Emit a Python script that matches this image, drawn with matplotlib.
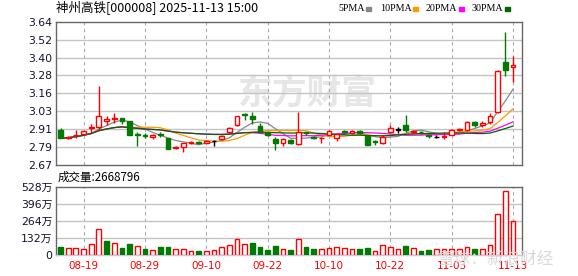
import matplotlib
matplotlib.use("Agg")
import matplotlib.pyplot as plt
import matplotlib.patches as mpatches
import numpy as np
import pandas as pd

# trading days shown (60 sessions)
dates = ["08-14", "08-15", "08-18", "08-19", "08-20", "08-21", "08-22", "08-25", "08-26", "08-27",
         "08-28", "08-29", "09-01", "09-02", "09-03", "09-04", "09-05", "09-08", "09-09", "09-10",
         "09-11", "09-12", "09-15", "09-16", "09-17", "09-18", "09-19", "09-22", "09-23", "09-24",
         "09-25", "09-26", "09-29", "09-30", "10-09", "10-10", "10-13", "10-14", "10-15", "10-16",
         "10-17", "10-20", "10-21", "10-22", "10-23", "10-24", "10-27", "10-28", "10-29", "10-30",
         "10-31", "11-03", "11-04", "11-05", "11-06", "11-07", "11-10", "11-11", "11-12", "11-13"]

opens = [2.91, 2.85, 2.87, 2.88, 2.92, 2.925, 2.965, 2.98, 2.985, 2.965,
         2.88, 2.875, 2.86, 2.88, 2.85, 2.785, 2.79, 2.82, 2.825, 2.82,
         2.83, 2.845, 2.89, 2.94, 3.015, 3.005, 2.935, 2.885, 2.845, 2.82,
         2.84, 2.81, 2.89, 2.86, 2.85, 2.875, 2.85, 2.90, 2.885, 2.90,
         2.865, 2.83, 2.82, 2.895, 2.91, 2.94, 2.895, 2.895, 2.87, 2.86,
         2.86, 2.875, 2.905, 2.905, 2.96, 2.94, 2.96, 3.03, 3.37, 3.33]
closes = [2.85, 2.86, 2.875, 2.90, 2.93, 3.00, 2.98, 2.99, 2.97, 2.87,
          2.875, 2.865, 2.875, 2.87, 2.78, 2.79, 2.82, 2.825, 2.82, 2.835,
          2.83, 2.865, 2.92, 3.00, 3.01, 2.98, 2.895, 2.875, 2.82, 2.845,
          2.82, 2.89, 2.885, 2.85, 2.855, 2.90, 2.88, 2.895, 2.90, 2.885,
          2.805, 2.825, 2.86, 2.92, 2.91, 2.91, 2.90, 2.89, 2.865, 2.86,
          2.865, 2.905, 2.915, 2.96, 2.94, 2.955, 3.005, 3.305, 3.31, 3.345]
highs = [2.92, 2.865, 2.905, 2.90, 2.95, 3.205, 3.00, 3.02, 2.99, 2.97,
         2.895, 2.885, 2.88, 2.89, 2.855, 2.80, 2.82, 2.835, 2.83, 2.84,
         2.84, 2.87, 2.925, 3.005, 3.025, 3.03, 2.955, 2.89, 2.86, 2.85,
         2.845, 3.03, 2.895, 2.865, 2.86, 2.905, 2.885, 2.91, 2.905, 2.91,
         2.87, 2.84, 2.87, 2.94, 2.93, 3.01, 2.91, 2.90, 2.875, 2.87,
         2.895, 2.915, 2.92, 2.97, 2.97, 2.965, 3.02, 3.31, 3.57, 3.41]
lows = [2.85, 2.845, 2.85, 2.88, 2.885, 2.91, 2.94, 2.955, 2.95, 2.87,
        2.80, 2.855, 2.845, 2.86, 2.78, 2.775, 2.755, 2.81, 2.81, 2.82,
        2.80, 2.84, 2.885, 2.935, 2.975, 2.95, 2.89, 2.865, 2.77, 2.80,
        2.815, 2.805, 2.875, 2.845, 2.82, 2.87, 2.835, 2.885, 2.88, 2.88,
        2.805, 2.805, 2.815, 2.885, 2.885, 2.895, 2.885, 2.88, 2.85, 2.855,
        2.845, 2.87, 2.90, 2.90, 2.93, 2.93, 2.95, 3.025, 3.27, 3.235]

# volume in 万 shares, and whether the close was above the previous close
volume = [65, 52, 52, 47, 83, 200, 109, 91, 55, 83,
          70, 47, 36, 62, 62, 44, 44, 29, 31, 31,
          36, 60, 78, 122, 83, 94, 62, 39, 70, 44,
          39, 122, 61, 46, 46, 52, 61, 52, 46, 46,
          54, 28, 78, 61, 46, 70, 52, 31, 36, 44,
          44, 44, 44, 61, 44, 44, 78, 320, 497, 266.8796]
vol_up = [0, 1, 1, 1, 1, 1, 0, 1, 0, 0,
          1, 0, 1, 0, 0, 1, 1, 1, 0, 1,
          1, 1, 1, 1, 1, 0, 0, 0, 0, 1,
          0, 1, 0, 0, 1, 1, 1, 1, 1, 0,
          0, 1, 1, 1, 1, 0, 1, 0, 0, 1,
          1, 1, 1, 1, 0, 1, 1, 1, 1, 1]

price_ticks = ["2.67", "2.79", "2.91", "3.03", "3.16", "3.28", "3.40", "3.52", "3.64"]
vol_ticks = ["0", "132万", "264万", "396万", "528万"]
ma_periods = [5, 10, 20, 30]
ma_colors = ["#888888", "#ff9900", "#ff00ff", "#006400"]

RED = "#ff0000"
GREEN = "#007a00"
W, H = 578, 276

def fx(px):
    return px / W

def fy(py):
    return 1 - py / H

fig = plt.figure(figsize=(W / 100, H / 100), dpi=100)
ax = fig.add_axes([fx(56), fy(165), fx(466), (165 - 21.7) / H])
axv = fig.add_axes([fx(56), fy(255), fx(466), (255 - 187) / H])

n = len(closes)
x = np.arange(n)
o = np.array(opens)
c = np.array(closes)
cols = np.where(c > o, RED, np.where(c < o, GREEN, "#000000"))
faces = np.where(c > o, "white", cols)

tick_idx = list(range(3, n, 8))

for a in (ax, axv):
    a.set_xlim(-0.59, n + 0.17)
    for t in tick_idx:
        a.axvline(t, color="#aaaaaa", lw=0.8, ls=(0, (3, 3)), zorder=1)
    for s in a.spines.values():
        s.set_color("#666666")
        s.set_linewidth(1)
    a.tick_params(length=0)

# price panel
levels = np.linspace(2.67, 3.64, 9)
ax.set_ylim(2.67, 3.64)
for v in levels[1:-1]:
    ax.axhline(v, color="#c4c4c4", lw=1, zorder=1)
ax.set_yticks(levels)
ax.set_yticklabels(price_ticks, fontsize=7.8, color="#111133")
ax.tick_params(axis="y", pad=2.5)
ax.set_xticks([])

ax.text(0.54, 0.50, "东方财富", transform=ax.transAxes, fontsize=25, fontweight="bold",
        color="#e6e6e6", family=["Noto Sans CJK SC"], ha="center", va="center", zorder=0)

ax.vlines(x, lows, highs, colors=cols, lw=1, zorder=3)
body_h = np.maximum(np.abs(c - o), 0.0015)
ax.bar(x, body_h, bottom=np.minimum(o, c), width=0.62, color=faces,
       edgecolor=cols, lw=1, zorder=4)

close_s = pd.Series(closes)
for p, col in zip(ma_periods, ma_colors):
    ax.plot(x, close_s.rolling(p, min_periods=1).mean(), color=col, lw=0.9, zorder=2)

# volume panel
axv.set_ylim(0, 528)
for v in [132, 264, 396]:
    axv.axhline(v, color="#c4c4c4", lw=1, zorder=1)
axv.set_yticks([0, 132, 264, 396, 528])
axv.set_yticklabels(vol_ticks, fontsize=7.8, color="#111133",
                    family=["DejaVu Sans", "Noto Sans CJK SC"])
axv.tick_params(axis="y", pad=2.5)
vu = np.array(vol_up) == 1
vcols = np.where(vu, RED, GREEN)
vfaces = np.where(vu, "white", GREEN)
axv.bar(x, volume, width=0.62, color=vfaces, edgecolor=vcols, lw=1, zorder=3)
axv.set_xticks(tick_idx)
axv.set_xticklabels([dates[i] for i in tick_idx], fontsize=7.5, color=RED)
axv.tick_params(axis="x", pad=4)
axv.spines["bottom"].set_color("#c8c8e0")

fig.text(fx(438), fy(259), "雪球：新浪财经", fontsize=12, color="#dadada",
         family=["Noto Sans CJK SC"], va="center", zorder=0)

# header texts
fig.text(fx(56), fy(8.3), "神州高铁[000008] 2025-11-13 15:00", fontsize=9,
         family=["Noto Sans CJK SC"], va="center")
fig.text(fx(58), fy(177.5), "成交量:2668796", fontsize=8.3,
         family=["Noto Sans CJK SC"], va="center")

leg_x = [338, 380, 426, 472]
sq_x = [366, 413, 459, 505]
for p, col, lx, sx in zip(ma_periods, ma_colors, leg_x, sq_x):
    fig.text(fx(lx), fy(8.3), f"{p}PMA", fontsize=7.2, family="Liberation Serif", va="center")
    fig.patches.append(mpatches.Rectangle((fx(sx), fy(10.5)), fx(5), 4 / H,
                                          transform=fig.transFigure, color=col))

fig.savefig("out.png", dpi=100)
